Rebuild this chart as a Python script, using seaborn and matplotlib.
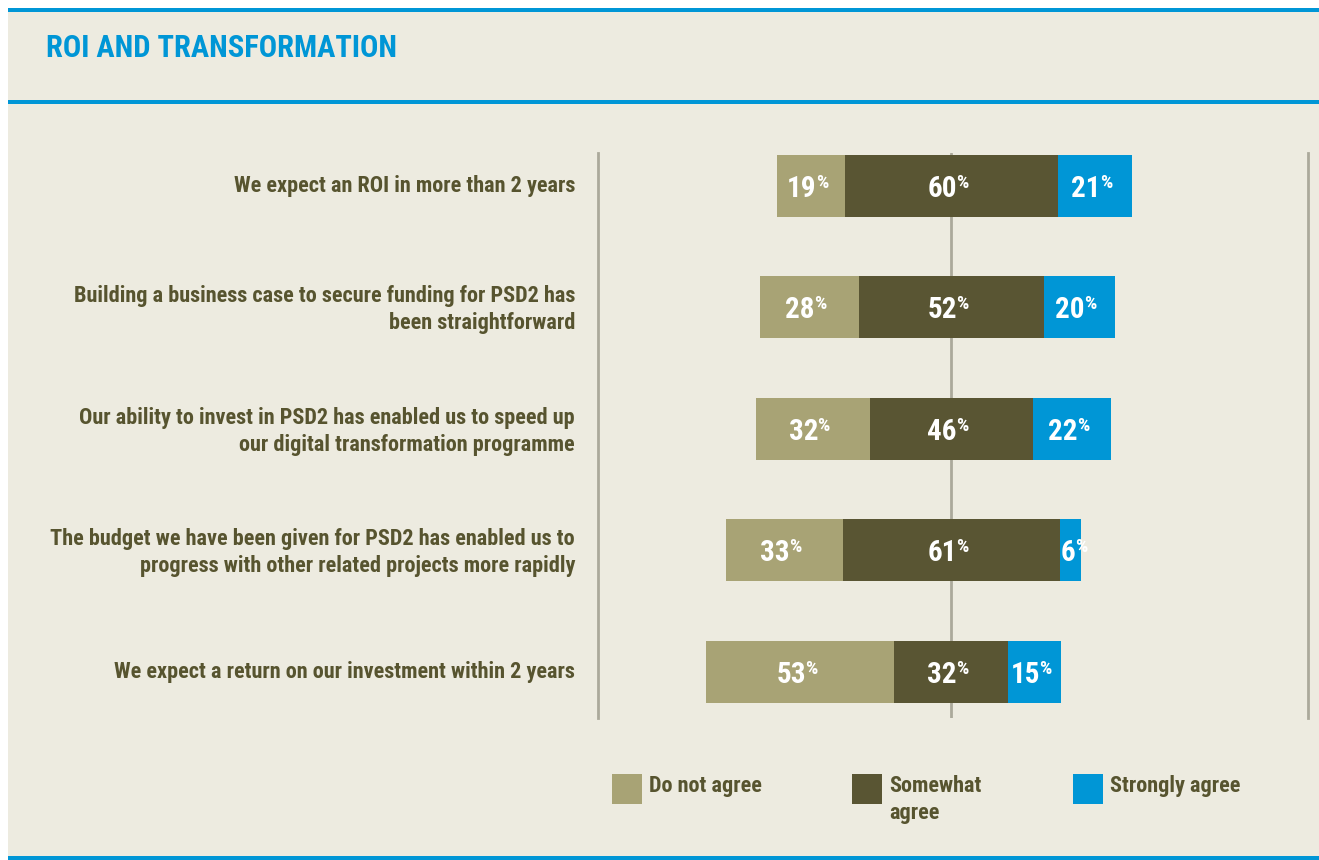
import numpy as np
import pandas as pd
import matplotlib
matplotlib.use("Agg")
import matplotlib.pyplot as plt
from matplotlib import font_manager as fm
from matplotlib.patches import Rectangle
import matplotlib.transforms as mtransforms
import seaborn as sns

# ---------------- data ----------------
categories = [
    "We expect an ROI in more than 2 years",
    "Building a business case to secure funding for PSD2 has\nbeen straightforward",
    "Our ability to invest in PSD2 has enabled us to speed up\nour digital transformation programme",
    "The budget we have been given for PSD2 has enabled us to\nprogress with other related projects more rapidly",
    "We expect a return on our investment within 2 years",
]
do_not_agree = [19, 28, 32, 33, 53]
somewhat_agree = [60, 52, 46, 61, 32]
strongly_agree = [21, 20, 22, 6, 15]
legend_labels = ["Do not agree", "Somewhat\nagree", "Strongly agree"]
title = "ROI AND TRANSFORMATION"

# ---------------- style ----------------
BG = "#EDEBE0"
C_DN = "#A8A375"
C_SW = "#595533"
C_SA = "#0096D6"
TXT = "#57542F"
GRID = "#ABA99B"

sns.set_theme(style="white")

# pick a condensed family if one is installed
names = sorted({f.name for f in fm.fontManager.ttflist})
cond = [n for n in names if ("Condensed" in n or "Narrow" in n)]
pref = ["Liberation Sans Narrow", "Roboto Condensed", "Open Sans Condensed",
        "DejaVu Sans Condensed"]
chosen = None
for p in pref:
    if p in names:
        chosen = p
        break
if chosen is None and cond:
    chosen = cond[0]
STRETCH = "normal"
if chosen is None:
    chosen = "DejaVu Sans"
    STRETCH = "condensed"
plt.rcParams["font.family"] = [chosen, "DejaVu Sans"]
plt.rcParams["font.stretch"] = STRETCH
plt.rcParams["font.weight"] = "bold"

W, H = 1319, 860
fig = plt.figure(figsize=(W / 100, H / 100), dpi=100, facecolor="white")

fig.add_artist(Rectangle((8 / W, 0), 1 - 8 / W, 1 - 8 / H, transform=fig.transFigure,
                         facecolor=BG, edgecolor="none", zorder=-10))
def hrule(y_top, thick):
    fig.add_artist(Rectangle((8 / W, 1 - (y_top + thick) / H), 1 - 8 / W, thick / H,
                             transform=fig.transFigure, facecolor=C_SA,
                             edgecolor="none", zorder=-5))
hrule(8, 4)
hrule(100, 4)
hrule(856, 4)

fig.text(46 / W, 1 - 48 / H, title, color=C_SA, fontsize=22, fontweight="bold",
         va="center", ha="left")

# ---------------- axes ----------------
ax_l, ax_r, ax_t, ax_b = 598, 1308, 153, 718
ax = fig.add_axes([ax_l / W, 1 - ax_b / H, (ax_r - ax_l) / W, (ax_b - ax_t) / H])
ax.set_facecolor("none")

df = pd.DataFrame({
    "cat": categories,
    "dn": do_not_agree,
    "sw": somewhat_agree,
    "sa": strongly_agree,
})
df["right_end"] = df["sw"] / 2 + df["sa"]
df["half_sw_pos"] = df["sw"] / 2
df["left_end"] = -(df["sw"] / 2 + df["dn"])
df["half_sw_neg"] = -df["sw"] / 2

bw = 0.51
common = dict(y="cat", data=df, order=categories, orient="h", width=bw,
              saturation=1, linewidth=0, ax=ax, zorder=3)
sns.barplot(x="right_end", color=C_SA, **common)
sns.barplot(x="half_sw_pos", color=C_SW, **common)
sns.barplot(x="left_end", color=C_DN, **common)
sns.barplot(x="half_sw_neg", color=C_SW, **common)
for p in ax.patches:
    p.set_antialiased(False)

ax.set_xlim(-99.5, 100.5)
ax.set_ylim(4.38, -0.27)

ax.axvline(0, color=GRID, lw=2, zorder=1)
for s in ["top", "bottom"]:
    ax.spines[s].set_visible(False)
for s in ["left", "right"]:
    ax.spines[s].set_color(GRID)
    ax.spines[s].set_linewidth(2)

ax.set_xticks([])
ax.set_xlabel("")
ax.set_ylabel("")
ax.tick_params(axis="y", length=0, pad=16.5)
ax.set_yticks(range(len(categories)))
ax.set_yticklabels(categories, fontsize=16, color=TXT, fontweight="bold",
                   ha="right", linespacing=1.32)
for t in ax.get_yticklabels():
    t.set_transform(t.get_transform() +
                    mtransforms.ScaledTranslation(0, 2 / 72, fig.dpi_scale_trans))

def put_label(xc, yc, val):
    ax.annotate(f"{val}", xy=(xc, yc), xytext=(4.0, -7.8), textcoords="offset points",
                ha="right", va="baseline", color="white", fontsize=21,
                fontweight="bold", zorder=5)
    ax.annotate("%", xy=(xc, yc), xytext=(3.4, 8.6), textcoords="offset points",
                ha="left", va="top", color="white", fontsize=14,
                fontweight="bold", zorder=5)

for i in range(len(categories)):
    dn, sw, sa = do_not_agree[i], somewhat_agree[i], strongly_agree[i]
    put_label(-sw / 2 - dn / 2, i, dn)
    put_label(0, i, sw)
    put_label(sw / 2 + sa / 2, i, sa)

leg_colors = [C_DN, C_SW, C_SA]
leg_x = [612, 852, 1073]
for x0, col, lab in zip(leg_x, leg_colors, legend_labels):
    fig.add_artist(Rectangle((x0 / W, 1 - 804 / H), 30 / W, 30 / H,
                             transform=fig.transFigure, facecolor=col,
                             edgecolor="none"))
    fig.text((x0 + 37) / W, 1 - 775 / H, lab, color=TXT, fontsize=16,
             fontweight="bold", ha="left", va="top", linespacing=1.32)

fig.savefig("out.png", dpi=100, facecolor="white")
